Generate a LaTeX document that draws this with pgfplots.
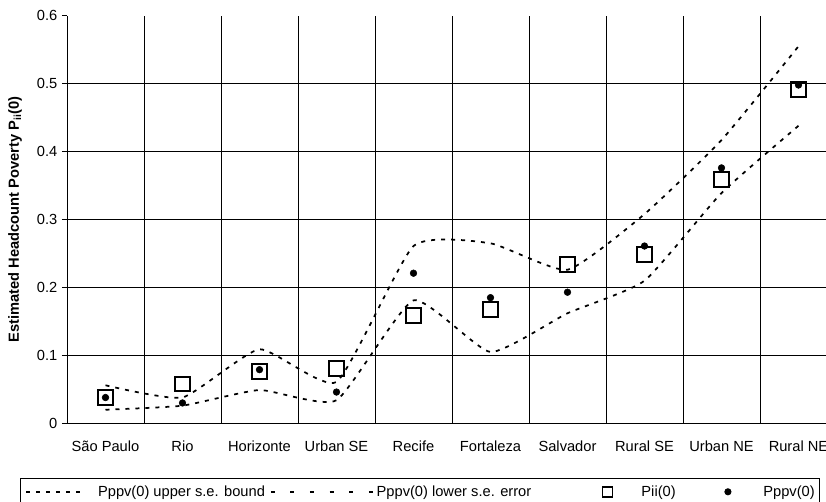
\documentclass[border=0pt]{standalone}
\usepackage{fontspec}
\setmainfont{Liberation Sans}
\usepackage{pgfplots}
\usepackage{pgfplotstable}
\pgfplotsset{compat=1.18}

% headcount poverty by region
\pgfplotstableread{
x upper lower pii ppv
0 0.056 0.020 0.038 0.038
1 0.038 0.026 0.058 0.030
2 0.109 0.049 0.076 0.079
3 0.061 0.034 0.081 0.046
4 0.261 0.181 0.159 0.221
5 0.265 0.105 0.168 0.185
6 0.226 0.162 0.234 0.193
7 0.308 0.210 0.249 0.261
8 0.417 0.339 0.359 0.376
9 0.555 0.438 0.491 0.498
}\povdata

\begin{document}
\begin{tikzpicture}
\begin{axis}[
  scale only axis,
  width=577.5pt, height=305.7pt,
  xmin=-0.5, xmax=9.5,
  ymin=0, ymax=0.6,
  axis lines=left,
  axis line style={-, black, line width=0.7pt},
  tick align=outside,
  major tick length=3.75pt,
  minor tick length=3.75pt,
  xtick={0,...,9},
  xticklabels={São Paulo,Rio,Horizonte,Urban SE,Recife,Fortaleza,Salvador,Rural SE,Urban NE,Rural NE},
  xtick style={draw=none},
  minor xtick={0.5,1.5,...,9.5},
  xminorgrids=true,
  minor x tick style={black, line width=0.6pt},
  minor grid style={black, line width=0.6pt},
  ytick={0,0.1,0.2,0.3,0.4,0.5},
  extra y ticks={0.6},
  extra y tick style={grid=none},
  ymajorgrids=true,
  major grid style={black, line width=0.6pt},
  y tick style={black, line width=0.6pt},
  /pgf/number format/fixed,
  /pgf/number format/precision=1,
  /pgf/number format/assume math mode=true,
  xticklabel style={font=\fontsize{11}{13}\selectfont, anchor=base, yshift=-17.75pt},
  yticklabel style={font=\fontsize{11}{13}\selectfont},
  ylabel={Estimated Headcount Poverty P\textsubscript{ii}(0)},
  ylabel style={font=\fontsize{11}{13}\selectfont\bfseries, at={(axis description cs:-0.0675,0.5)}, anchor=center},
  legend columns=4,
  legend style={
    at={(axis description cs:-0.06104,-0.1342)}, anchor=north west,
    draw=black, line width=0.7pt, fill=white,
    inner xsep=3.75pt, inner ysep=5.25pt,
    font=\fontsize{11}{13}\selectfont,
    nodes={inner sep=0pt, text depth=0.15em},
    cells={anchor=center},
    /tikz/column sep=0pt,
  },
]
\coordinate (O) at (rel axis cs:0,0);

\addplot[black, line width=1.3pt, dash pattern=on 3pt off 4.5pt, smooth, tension=0.3,
  legend image code/.code={
    \draw[black, line width=1.1pt, dash pattern=on 3pt off 4.5pt] (0pt,0pt) -- (43.5pt,0pt);
    \path (53.25pt,0pt);}]
  table[x=x, y=upper] {\povdata};
\addlegendentry{\makebox[129pt][l]{Pppv(0) upper s.e. bound}}

\addplot[black, line width=1.3pt, dash pattern=on 3pt off 4.5pt, smooth, tension=0.3,
  legend image code/.code={
    \draw[black, line width=1.1pt, dash pattern=on 3pt off 11.7pt] (0pt,0pt) -- (76.5pt,0pt);
    \path (78.75pt,0pt);}]
  table[x=x, y=lower] {\povdata};
\addlegendentry{\makebox[168.75pt][l]{Pppv(0) lower s.e. error}}

\addplot[only marks, mark=square, mark size=5.5pt, black, mark options={line width=1.5pt},
  legend image code/.code={
    \draw[black, line width=1.3pt] (0.4pt,-3.7pt) rectangle (7.8pt,3.7pt);
    \path (29.25pt,0pt);}]
  table[x=x, y=pii] {\povdata};
\addlegendentry{\makebox[58.5pt][l]{Pii(0)}}

\addplot[only marks, mark=*, mark size=2.5pt, black,
  legend image code/.code={
    \fill[black] (6pt,0pt) circle (2.3pt);
    \path (0pt,0pt) (32.25pt,0pt);}]
  table[x=x, y=ppv] {\povdata};
\addlegendentry{Pppv(0)}
\end{axis}
\pgfresetboundingbox
\path[use as bounding box] ([shift={(-50.25pt,-59pt)}]O) rectangle ([shift={(569.25pt,317.5pt)}]O);
\end{tikzpicture}
\end{document}
